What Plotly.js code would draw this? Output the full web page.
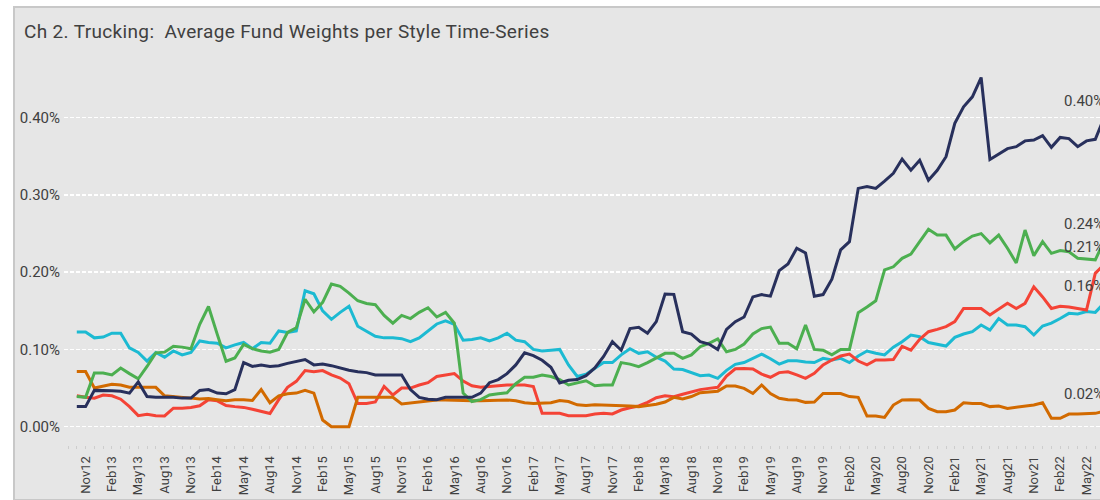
<!DOCTYPE html>
<html>
<head>
<meta charset="utf-8">
<script src="https://cdn.plot.ly/plotly-3.0.1.min.js"></script>
<style>
  html, body { margin: 0; padding: 0; width: 1100px; height: 500px; overflow: hidden; background: #ffffff; }
  #frame { position: absolute; left: 13px; top: 6px; width: 1200px; height: 491px; border: 2px solid #c8c8c8; background: #e6e6e6; }
  #chart { position: absolute; left: 0; top: 0; width: 1200px; height: 500px; }
  #chart .gtitle { letter-spacing: 0.35px; }
</style>
</head>
<body>
<div id="frame"></div>
<div id="chart"></div>
<script>
// ---- data (values in %) ----
const startYear = 2012;      // first month: Oct 2012
const startMonth = 9;        // 0-based month index (Oct)
const monthNames = ["Jan","Feb","Mar","Apr","May","Jun","Jul","Aug","Sep","Oct","Nov","Dec"];

const yTickVals = [0, 0.1, 0.2, 0.3, 0.4];
const yTickText = ["0.00%", "0.10%", "0.20%", "0.30%", "0.40%"];

const navy = [0.026,0.026,0.047,0.047,0.0465,0.046,0.0435,0.058,0.039,0.038,
  0.038,0.038,0.037,0.037,0.047,0.048,0.0435,0.0426,0.048,0.083,
  0.078,0.080,0.078,0.079,0.082,0.085,0.087,0.080,0.081,0.079,
  0.076,0.073,0.071,0.070,0.067,0.067,0.067,0.067,0.048,0.038,
  0.0356,0.035,0.038,0.038,0.038,0.038,0.0435,0.057,0.061,0.0687,
  0.080,0.0956,0.092,0.086,0.077,0.0565,0.060,0.061,0.066,0.076,
  0.091,0.110,0.099,0.127,0.1286,0.121,0.136,0.1717,0.1713,0.123,
  0.120,0.110,0.107,0.100,0.126,0.136,0.142,0.168,0.171,0.169,
  0.202,0.2106,0.231,0.225,0.169,0.171,0.191,0.229,0.2395,0.3085,
  0.311,0.3085,0.318,0.328,0.3465,0.332,0.345,0.319,0.332,0.3495,
  0.3927,0.414,0.427,0.452,0.346,0.353,0.360,0.3625,0.370,0.371,
  0.3767,0.3616,0.3745,0.373,0.3625,0.370,0.372,0.40];

const green = [0.039,0.038,0.0695,0.0695,0.067,0.076,0.0687,0.062,0.078,0.0956,
  0.0965,0.104,0.103,0.101,0.1326,0.1556,0.1195,0.0847,0.089,0.1065,
  0.101,0.098,0.0965,0.100,0.122,0.128,0.165,0.1486,0.161,0.1847,
  0.1817,0.173,0.163,0.1595,0.158,0.144,0.134,0.144,0.140,0.148,
  0.154,0.142,0.148,0.134,0.0435,0.0326,0.035,0.041,0.0426,0.044,
  0.0556,0.064,0.064,0.067,0.065,0.061,0.054,0.0565,0.0595,0.053,
  0.054,0.054,0.083,0.081,0.0777,0.083,0.089,0.095,0.095,0.0885,
  0.093,0.1036,0.108,0.1135,0.097,0.100,0.107,0.120,0.127,0.129,
  0.108,0.108,0.101,0.1316,0.100,0.099,0.093,0.100,0.100,0.1476,
  0.155,0.163,0.203,0.207,0.218,0.2235,0.2395,0.2555,0.248,0.248,
  0.230,0.2395,0.2468,0.250,0.238,0.248,0.231,0.212,0.2546,0.2214,
  0.2395,0.2244,0.228,0.2265,0.218,0.217,0.216,0.24];

const cyan = [0.1226,0.1226,0.115,0.116,0.121,0.121,0.102,0.096,0.085,0.096,
  0.090,0.098,0.093,0.096,0.111,0.109,0.108,0.102,0.106,0.109,
  0.101,0.109,0.108,0.124,0.122,0.124,0.176,0.172,0.150,0.139,
  0.148,0.156,0.130,0.124,0.117,0.115,0.115,0.114,0.110,0.115,
  0.124,0.133,0.137,0.1325,0.112,0.113,0.115,0.111,0.115,0.121,
  0.112,0.110,0.100,0.098,0.099,0.100,0.080,0.065,0.068,0.075,
  0.083,0.083,0.093,0.101,0.095,0.097,0.090,0.085,0.0746,0.074,
  0.070,0.066,0.0669,0.0626,0.073,0.0807,0.083,0.0885,0.094,0.088,
  0.081,0.0854,0.0854,0.0837,0.083,0.0885,0.0863,0.0885,0.083,0.0915,
  0.098,0.095,0.093,0.103,0.110,0.1187,0.1165,0.109,0.107,0.1044,
  0.1156,0.120,0.123,0.1316,0.125,0.140,0.1316,0.1316,0.1295,0.1187,
  0.1303,0.134,0.140,0.1467,0.146,0.149,0.148,0.16];

const red = [0.040,0.038,0.037,0.041,0.040,0.0356,0.026,0.0143,0.016,0.0143,
  0.0139,0.024,0.024,0.025,0.027,0.035,0.0335,0.0274,0.026,0.025,
  0.0226,0.020,0.017,0.035,0.051,0.0587,0.0726,0.071,0.0726,0.067,
  0.063,0.0556,0.030,0.030,0.032,0.052,0.041,0.050,0.050,0.054,
  0.057,0.065,0.067,0.0687,0.059,0.053,0.051,0.052,0.053,0.054,
  0.054,0.054,0.052,0.0174,0.0174,0.0174,0.0143,0.0143,0.0143,0.0165,
  0.0173,0.0165,0.0216,0.0246,0.0268,0.0315,0.0375,0.040,0.0388,0.042,
  0.0453,0.048,0.0496,0.051,0.0656,0.075,0.0755,0.0746,0.068,0.064,
  0.070,0.071,0.067,0.0626,0.069,0.080,0.0863,0.0915,0.094,0.085,
  0.080,0.0863,0.0863,0.087,0.104,0.099,0.113,0.123,0.126,0.1295,
  0.136,0.153,0.153,0.153,0.1446,0.152,0.1597,0.153,0.1597,0.181,
  0.168,0.153,0.156,0.155,0.153,0.151,0.1985,0.21];

const orange = [0.0713,0.0713,0.050,0.052,0.0548,0.054,0.051,0.051,0.051,0.051,
  0.040,0.0387,0.038,0.037,0.036,0.0365,0.035,0.0335,0.035,0.035,
  0.034,0.048,0.031,0.040,0.0426,0.0435,0.047,0.0435,0.0087,0.0,
  0.0,0.0,0.038,0.038,0.038,0.038,0.038,0.0295,0.031,0.0326,
  0.034,0.0347,0.0347,0.034,0.034,0.0335,0.0335,0.034,0.034,0.0347,
  0.0335,0.031,0.030,0.0304,0.031,0.0339,0.0326,0.0283,0.0274,0.0283,
  0.028,0.028,0.0276,0.0268,0.026,0.0276,0.029,0.032,0.038,0.036,
  0.039,0.044,0.0453,0.046,0.0526,0.0526,0.0496,0.043,0.054,0.043,
  0.0367,0.035,0.0345,0.0315,0.032,0.043,0.043,0.043,0.039,0.038,
  0.0138,0.0138,0.012,0.028,0.0345,0.035,0.0345,0.0237,0.0194,0.0194,
  0.0216,0.031,0.030,0.030,0.026,0.0268,0.0237,0.025,0.0268,0.028,
  0.031,0.0108,0.0108,0.0164,0.0164,0.0164,0.0173,0.02];

const endLabels = ["0.40%","0.24%","0.16%","0.21%","0.02%"];

// ---- build ----
const n = navy.length;
const xs = [], months = [];
for (let i = 0; i < n; i++) {
  xs.push(i);
  const mi = startMonth + i;
  months.push(monthNames[mi % 12] + String((startYear + Math.floor(mi / 12)) % 100));
}
const tickvals = [], ticktext = [];
for (let i = 0; i < n; i++) {
  const m = months[i].slice(0, 3);
  if (m === "Nov" || m === "Feb" || m === "May" || m === "Aug") {
    tickvals.push(i); ticktext.push(months[i]);
  }
}

const series = [
  {name: "Style 1", y: navy,   color: "#28305c"},
  {name: "Style 2", y: green,  color: "#4caf50"},
  {name: "Style 3", y: cyan,   color: "#1cbad2"},
  {name: "Style 4", y: red,    color: "#f44336"},
  {name: "Style 5", y: orange, color: "#d26a00"}
];
const order = [2, 3, 4, 1, 0]; // draw navy on top
const traces = order.map(k => ({
  type: "scatter", mode: "lines", x: xs, y: series[k].y, name: series[k].name,
  line: {color: series[k].color, width: 3}, hoverinfo: "skip"
}));

const annotations = series.map((s, k) => ({
  x: n - 1, y: s.y[n - 1], xref: "x", yref: "y",
  text: endLabels[k], showarrow: false,
  xanchor: "center", yanchor: "middle", xshift: -20, yshift: 17,
  font: {family: "Roboto, sans-serif", size: 15, color: "#404040"}
}));

const pxPerMonth = 8.78, plotLeft = 64, plotW = 1136;
const x0 = -(76.8 - plotLeft) / pxPerMonth;
const x1 = x0 + plotW / pxPerMonth;

const layout = {
  width: 1200, height: 500,
  margin: {l: plotLeft, r: 0, t: 60, b: 55},
  paper_bgcolor: "rgba(0,0,0,0)", plot_bgcolor: "rgba(0,0,0,0)",
  showlegend: false,
  title: {text: "Ch 2. Trucking:  Average Fund Weights per Style Time-Series",
          xref: "container", yref: "container", x: 24 / 1200, xanchor: "left",
          y: 1 - 31 / 500, yanchor: "middle",
          font: {family: "Roboto, sans-serif", size: 19, color: "#404040"}},
  xaxis: {
    range: [x0, x1], tickvals: tickvals, ticktext: ticktext, tickangle: -90,
    showgrid: false, zeroline: false, showline: false,
    ticks: "outside", ticklen: 3, tickcolor: "#cdcdcd", tickwidth: 1,
    minor: {dtick: 1, tick0: 0, ticks: "outside", ticklen: 3, tickcolor: "#cdcdcd", showgrid: false},
    ticklabelstandoff: 2,
    tickfont: {family: "Roboto, sans-serif", size: 13, color: "#404040"}
  },
  yaxis: {
    range: [(426.7 - 445) / 772.5, (426.7 - 60) / 772.5],
    tickvals: yTickVals, ticktext: yTickText,
    showgrid: true, gridcolor: "#ffffff", gridwidth: 1.5, griddash: "4px,2px",
    zeroline: false, showline: false, ticks: "", ticklabelstandoff: 3,
    tickfont: {family: "Roboto, sans-serif", size: 15, color: "#404040"}
  },
  annotations: annotations
};

Plotly.newPlot("chart", traces, layout, {staticPlot: true, displayModeBar: false});
</script>
</body>
</html>
